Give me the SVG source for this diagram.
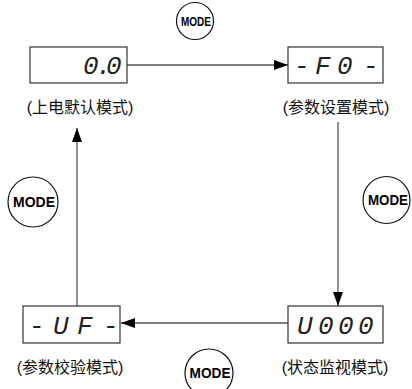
<svg xmlns="http://www.w3.org/2000/svg" width="412" height="389" viewBox="0 0 412 389">
<defs>
<marker id="arr" viewBox="0 0 14 10" refX="14" refY="5" markerWidth="14" markerHeight="10" markerUnits="userSpaceOnUse" orient="auto">
<path d="M0,0 L14,5 L0,10 Z" fill="#000"/>
</marker>
<style>
.box{fill:#fff;stroke:#333;stroke-width:1.2}
.disp{font-family:"Liberation Mono","DejaVu Sans Mono",monospace;font-style:italic;font-size:26px;fill:#222}
.lbl{font-family:"Liberation Sans","Noto Sans CJK SC",sans-serif;font-size:16px;fill:#111}
.btn{fill:#fff;stroke:#111;stroke-width:1.2}
.mode{font-family:"Liberation Sans",Arial,sans-serif;font-weight:bold;fill:#000;text-anchor:middle}
.conn{stroke:#555;stroke-width:1.3;fill:none}
</style>
</defs>
<rect width="412" height="389" fill="#fff"/>
<g id="connectors">
<line class="conn" x1="127" y1="65" x2="288" y2="65" marker-end="url(#arr)"/>
<line class="conn" x1="338" y1="122" x2="338" y2="306" marker-end="url(#arr)"/>
<line class="conn" x1="288" y1="323" x2="121" y2="323" marker-end="url(#arr)"/>
<line class="conn" x1="77" y1="306" x2="77" y2="128" marker-end="url(#arr)"/>
</g>
<g id="node-default">
<rect class="box" x="30" y="47" width="97" height="36"/>
<text class="disp" x="83 96 106" y="74">0.0</text>
<text class="lbl" x="80" y="113" text-anchor="middle">(上电默认模式)</text>
</g>
<g id="node-param-set">
<rect class="box" x="288" y="47" width="95" height="36"/>
<text class="disp" x="294 315 337 363" y="74">-F0-</text>
<text class="lbl" x="336" y="113" text-anchor="middle">(参数设置模式)</text>
</g>
<g id="node-status">
<rect class="box" x="288" y="306" width="95" height="37"/>
<text class="disp" x="297 318 338 358" y="334">U000</text>
<text class="lbl" x="335" y="373" text-anchor="middle">(状态监视模式)</text>
</g>
<g id="node-param-check">
<rect class="box" x="23" y="306" width="97" height="37"/>
<text class="disp" x="29 53 77 103" y="334">-UF-</text>
<text class="lbl" x="70" y="373" text-anchor="middle">(参数校验模式)</text>
</g>
<g id="btn-top">
<circle class="btn" cx="195" cy="21" r="18.5"/>
<text class="mode" x="196" y="25.5" font-size="12.5" textLength="30" lengthAdjust="spacingAndGlyphs">MODE</text>
</g>
<g id="btn-right">
<circle class="btn" cx="386.5" cy="200" r="23.5"/>
<text class="mode" x="388" y="205" font-size="14" textLength="40" lengthAdjust="spacingAndGlyphs">MODE</text>
</g>
<g id="btn-left">
<circle class="btn" cx="33" cy="202" r="25"/>
<text class="mode" x="34" y="207" font-size="14" textLength="42" lengthAdjust="spacingAndGlyphs">MODE</text>
</g>
<g id="btn-bottom">
<circle class="btn" cx="209" cy="373" r="24"/>
<text class="mode" x="210" y="378" font-size="14" textLength="41" lengthAdjust="spacingAndGlyphs">MODE</text>
</g>
</svg>
